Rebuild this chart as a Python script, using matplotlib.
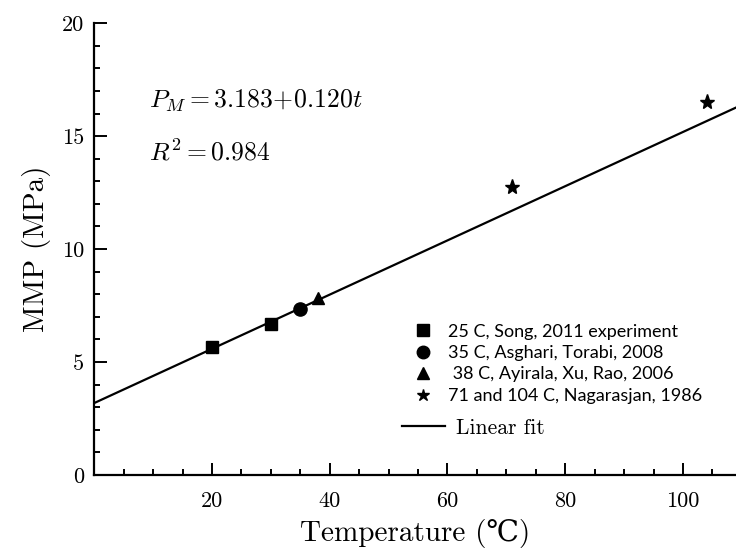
"""MMP versus temperature with a linear fit (reference chart recreation)."""
import numpy as np
import matplotlib.pyplot as plt
from matplotlib.lines import Line2D
from matplotlib.ticker import MultipleLocator

plt.rcParams["mathtext.fontset"] = "cm"
plt.rcParams["axes.unicode_minus"] = False

CM = ["cmr10", "DejaVu Serif"]
SANS = ["Lato", "DejaVu Sans"]

# Data points
SONG_T = [20, 30]
SONG_P = [5.65, 6.68]
ASGHARI_T = [35]
ASGHARI_P = [7.35]
AYIRALA_T = [38]
AYIRALA_P = [7.85]
NAGA_T = [71, 104]
NAGA_P = [12.75, 16.5]

# Linear fit P_M = a + b t
FIT_A, FIT_B = 3.183, 0.120

DATA_LABELS = [
    "25 C, Song, 2011 experiment",
    "35 C, Asghari, Torabi, 2008",
    " 38 C, Ayirala, Xu, Rao, 2006",
    "71 and 104 C, Nagarasjan, 1986",
]
FIT_LABEL = "Linear fit"

X_MAX, Y_MAX = 109, 20


def main():
    fig = plt.figure(figsize=(7.36, 5.51), dpi=100)
    ax = fig.add_axes([0.128, 0.138, 0.872, 0.82])

    t = np.array([0, X_MAX])
    ax.plot(t, FIT_A + FIT_B * t, color="black", lw=1.6, zorder=2)

    ax.plot(SONG_T, SONG_P, "s", color="black", ms=9, zorder=3)
    ax.plot(ASGHARI_T, ASGHARI_P, "o", color="black", ms=9.5, zorder=3)
    ax.plot(AYIRALA_T, AYIRALA_P, "^", color="black", ms=9, zorder=3)
    ax.plot(NAGA_T, NAGA_P, "*", color="black", ms=11, zorder=3)

    ax.set_xlim(0, X_MAX)
    ax.set_ylim(0, Y_MAX)
    ax.set_xticks([20, 40, 60, 80, 100])
    ax.set_yticks([0, 5, 10, 15, 20])
    ax.xaxis.set_minor_locator(MultipleLocator(5))
    ax.yaxis.set_minor_locator(MultipleLocator(1))
    ax.tick_params(which="both", direction="in", top=False, right=False,
                   width=1.4, labelsize=16)
    ax.tick_params(axis="x", pad=12)
    ax.tick_params(axis="y", pad=7)
    ax.tick_params(which="major", length=9)
    ax.tick_params(which="minor", length=4.5)
    for lab in ax.get_xticklabels() + ax.get_yticklabels():
        lab.set_family(CM)

    for side in ("top", "right"):
        ax.spines[side].set_visible(False)
    for side in ("left", "bottom"):
        ax.spines[side].set_linewidth(1.6)

    ax.set_xlabel("Temperature (\u2103)", family=CM, fontsize=21, labelpad=6)
    ax.set_ylabel("MMP (MPa)", family=CM, fontsize=21, labelpad=8)

    ax.text(0.085, 0.828, r"$P_M = 3.183\!+\!0.120t$", transform=ax.transAxes,
            fontsize=18.5, va="center")
    ax.text(0.085, 0.712, r"$R^2 = 0.984$", transform=ax.transAxes,
            fontsize=18.5, va="center")

    # data legend (sans font, markers only)
    marker_handles = [
        Line2D([], [], ls="none", marker="s", color="black", ms=8),
        Line2D([], [], ls="none", marker="o", color="black", ms=9),
        Line2D([], [], ls="none", marker="^", color="black", ms=9),
        Line2D([], [], ls="none", marker="*", color="black", ms=9),
    ]
    leg1 = ax.legend(marker_handles, DATA_LABELS, loc="upper left",
                     bbox_to_anchor=(0.473, 0.371), frameon=False,
                     handlelength=1.0, handletextpad=0.9, labelspacing=0.3,
                     prop={"family": SANS, "size": 13})
    ax.add_artist(leg1)

    # fit legend (serif font, line)
    fit_handle = [Line2D([], [], color="black", lw=1.6)]
    ax.legend(fit_handle, [FIT_LABEL], loc="center left",
              bbox_to_anchor=(0.449, 0.104), frameon=False,
              handlelength=2.0, handletextpad=0.5,
              prop={"family": CM, "size": 15.5})

    fig.savefig("out.png", dpi=100)


if __name__ == "__main__":
    main()
